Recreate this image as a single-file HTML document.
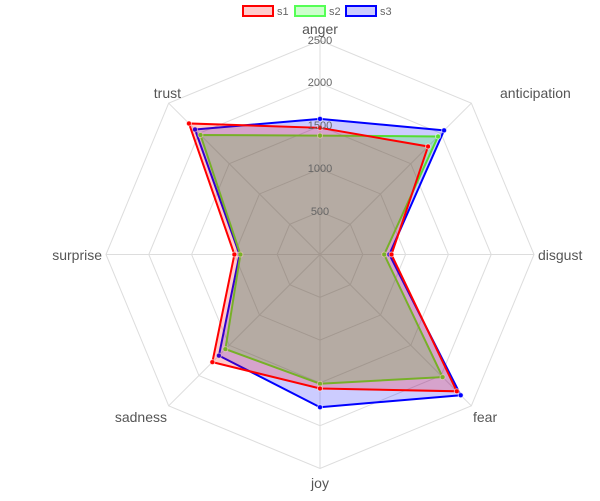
<!DOCTYPE html>
<html><head><meta charset="utf-8"><style>
html,body{margin:0;padding:0;background:#fff;}
svg{display:block;font-family:"Liberation Sans",sans-serif;}
</style></head><body>
<svg id="c" width="600" height="501" viewBox="0 0 600 501">
<g id="grid" stroke="#ddd" stroke-width="1" fill="none"></g>
<g id="series"></g>
<g font-size="11" fill="#666" text-anchor="middle">
<text x="320" y="215">500</text>
<text x="320" y="172">1000</text>
<text x="320" y="129">1500</text>
<text x="320" y="86">2000</text>
<text x="320" y="44">2500</text>
</g>
<g font-size="14" fill="#555">
<text x="320" y="34" text-anchor="middle">anger</text>
<text x="500" y="98" text-anchor="start">anticipation</text>
<text x="538" y="260" text-anchor="start">disgust</text>
<text x="473" y="422" text-anchor="start">fear</text>
<text x="320" y="488" text-anchor="middle">joy</text>
<text x="167" y="422" text-anchor="end">sadness</text>
<text x="102" y="260" text-anchor="end">surprise</text>
<text x="181" y="98" text-anchor="end">trust</text>
</g>
<g font-size="11" fill="#666">
<rect x="243" y="6" width="30" height="10" fill="rgba(255,0,0,0.2)" stroke="#f00" stroke-width="2"/>
<text x="277" y="15">s1</text>
<rect x="295" y="6" width="30" height="10" fill="rgba(0,255,0,0.2)" stroke="#5f5" stroke-width="2"/>
<text x="329" y="15">s2</text>
<rect x="346" y="6" width="30" height="10" fill="rgba(0,0,255,0.2)" stroke="#00f" stroke-width="2"/>
<text x="380" y="15">s3</text>
</g>
</svg>
<script>
var cx=320,cy=254.5,R=214,NS="http://www.w3.org/2000/svg";
function pt(i,v){var a=-Math.PI/2+i*Math.PI/4,r=v/2500*R;return [cx+r*Math.cos(a),cy+r*Math.sin(a)];}
var g=document.getElementById('grid');
for(var k=1;k<=5;k++){var p=[];for(var i=0;i<8;i++)p.push(pt(i,k*500).join(','));
var e=document.createElementNS(NS,'polygon');e.setAttribute('points',p.join(' '));g.appendChild(e);}
for(var i=0;i<8;i++){var q=pt(i,2500);var l=document.createElementNS(NS,'line');
l.setAttribute('x1',cx);l.setAttribute('y1',cy);l.setAttribute('x2',q[0]);l.setAttribute('y2',q[1]);g.appendChild(l);}
var S=[
{d:[1585,2050,810,2325,1784,1670,940,2065],f:'rgba(0,0,255,0.2)',s:'#00f'},
{d:[1389,1950,750,2025,1510,1563,930,1975],f:'rgba(0,255,0,0.2)',s:'#5d3'},
{d:[1480,1785,835,2260,1565,1778,1000,2165],f:'rgba(255,0,0,0.2)',s:'#f00'}];
var sg=document.getElementById('series');
S.forEach(function(s){var p=s.d.map(function(v,i){return pt(i,v);});
var e=document.createElementNS(NS,'polygon');e.setAttribute('points',p.map(function(x){return x.join(',')}).join(' '));
e.setAttribute('fill',s.f);e.setAttribute('stroke',s.s);e.setAttribute('stroke-width','2');sg.appendChild(e);
p.forEach(function(x){var c=document.createElementNS(NS,'circle');c.setAttribute('cx',x[0]);c.setAttribute('cy',x[1]);c.setAttribute('r','2.5');
c.setAttribute('fill',s.s);c.setAttribute('stroke','rgba(255,255,255,0.6)');c.setAttribute('stroke-width','1');sg.appendChild(c);});});
</script>
</body></html>
